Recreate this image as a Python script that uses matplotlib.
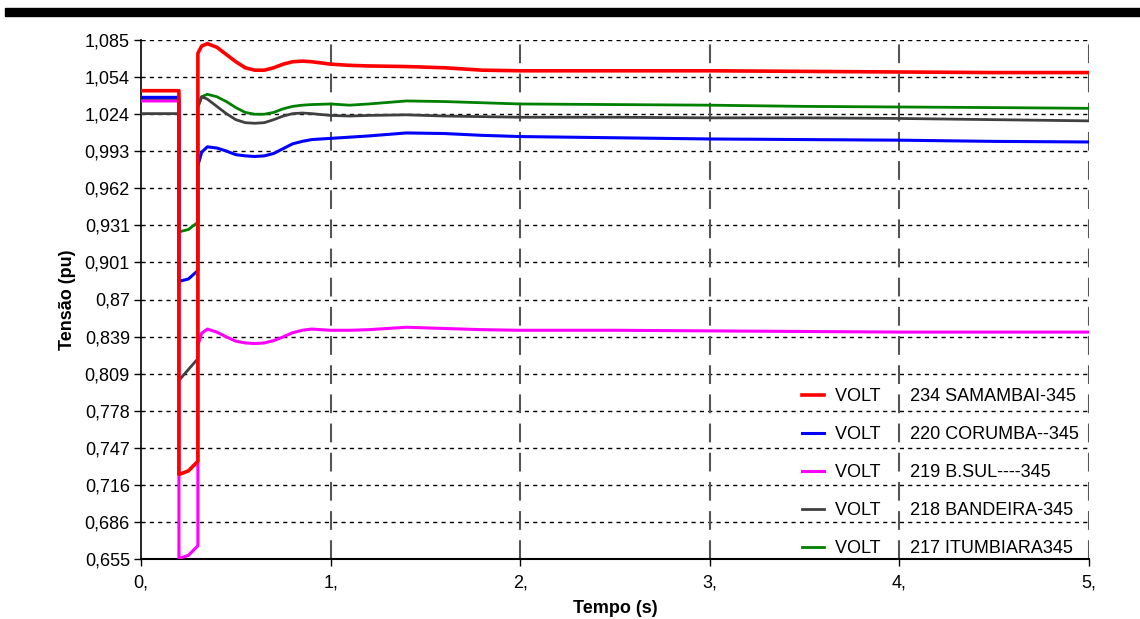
import numpy as np
import matplotlib
matplotlib.use("Agg")
import matplotlib.pyplot as plt
from matplotlib.patches import Rectangle

plt.rcParams['font.family'] = ['Liberation Sans', 'DejaVu Sans']

# tempo (s) - falta entre 0.2 e 0.3 s
tempo = [0.0, 0.2, 0.2, 0.25, 0.3, 0.3, 0.32, 0.35, 0.4, 0.45, 0.5, 0.55, 0.6, 0.65,
         0.7, 0.75, 0.8, 0.85, 0.9, 1.0, 1.1, 1.2, 1.4, 1.6, 1.8, 2.0, 2.5, 3.0,
         3.5, 4.0, 4.5, 5.0]

samambai = [1.043, 1.043, 0.725, 0.728, 0.736, 1.074, 1.080, 1.082, 1.079, 1.073,
            1.067, 1.062, 1.060, 1.060, 1.062, 1.065, 1.067, 1.0675, 1.067, 1.065,
            1.064, 1.0635, 1.063, 1.062, 1.060, 1.0595, 1.0595, 1.0595, 1.059,
            1.0585, 1.058, 1.058]
corumba = [1.0375, 1.0375, 0.885, 0.887, 0.894, 0.981, 0.992, 0.9965, 0.9955, 0.993,
           0.990, 0.989, 0.9885, 0.989, 0.991, 0.995, 0.999, 1.001, 1.0025, 1.0035,
           1.0045, 1.0055, 1.008, 1.0075, 1.006, 1.005, 1.004, 1.003, 1.0025,
           1.002, 1.001, 1.0005]
bsul = [1.0345, 1.0345, 0.6555, 0.658, 0.666, 0.832, 0.842, 0.8455, 0.843, 0.839,
        0.8355, 0.834, 0.8335, 0.834, 0.836, 0.839, 0.8425, 0.8445, 0.8455, 0.8445,
        0.8445, 0.845, 0.847, 0.846, 0.845, 0.8445, 0.8445, 0.844, 0.8435, 0.843,
        0.843, 0.843]
bandeira = [1.024, 1.024, 0.803, 0.812, 0.821, 1.030, 1.038, 1.036, 1.030, 1.024,
            1.019, 1.0165, 1.016, 1.0165, 1.019, 1.022, 1.024, 1.0245, 1.024, 1.0225,
            1.022, 1.0225, 1.023, 1.022, 1.0215, 1.021, 1.021, 1.0205, 1.0205,
            1.020, 1.019, 1.018]
itumbiara = [1.036, 1.036, 0.926, 0.928, 0.934, 1.029, 1.038, 1.040, 1.038, 1.034,
             1.029, 1.025, 1.0235, 1.0235, 1.025, 1.028, 1.030, 1.031, 1.0315, 1.032,
             1.031, 1.032, 1.0345, 1.034, 1.033, 1.032, 1.0315, 1.031, 1.030,
             1.0295, 1.029, 1.0284]

nomes = ["234 SAMAMBAI-345", "220 CORUMBA--345", "219 B.SUL----345",
         "218 BANDEIRA-345", "217 ITUMBIARA345"]
cores = ["#ff0000", "#0000ff", "#ff00ff", "#404040", "#008000"]
series = [samambai, corumba, bsul, bandeira, itumbiara]

yticks_lbl = ["0,655", "0,686", "0,716", "0,747", "0,778", "0,809", "0,839", "0,87",
              "0,901", "0,931", "0,962", "0,993", "1,024", "1,054", "1,085"]
xticks_lbl = ["0,", "1,", "2,", "3,", "4,", "5,"]

fig = plt.figure(figsize=(11.4, 6.19), dpi=100)
ax = fig.add_axes([141 / 1140, 1 - 559 / 619, 948 / 1140, 519 / 619])

# barra preta no topo
fig.patches.append(Rectangle((5 / 1140, 1 - 16 / 619), 1135 / 1140, 8 / 619,
                             transform=fig.transFigure, color="black", zorder=5))

# desenha de tras para frente (vermelho por cima)
handles = []
for vals, cor, nome, lw, z in zip(series, cores, nomes,
                                  [2.6, 2.2, 2.2, 2.0, 2.0], [6, 5, 4, 3, 2]):
    h, = ax.plot(tempo, vals, color=cor, lw=lw, zorder=z,
                 label="VOLT      " + nome)
    handles.append(h)

ax.set_xlim(0, 5)
ax.set_ylim(0.655, 1.085)
yt = np.linspace(0.655, 1.085, len(yticks_lbl))
ax.set_yticks(yt)
ax.set_yticklabels(yticks_lbl)
ax.set_xticks(range(len(xticks_lbl)))
ax.set_xticklabels(xticks_lbl)
ax.tick_params(axis='both', labelsize=13, length=5, width=1, color='black')
ax.tick_params(axis='x', pad=6)
ax.tick_params(axis='y', pad=3)

# grades
for y in yt[1:]:
    ax.axhline(y, color='black', lw=1, ls=(0, (3, 3)), zorder=1)
for x in range(1, 6):
    ax.axvline(x, color='#555555', lw=1.5, ls=(0, (9, 5)), zorder=1)

ax.spines['top'].set_visible(False)
ax.spines['right'].set_visible(False)
ax.spines['left'].set_linewidth(1.2)
ax.spines['bottom'].set_linewidth(1.5)

ax.set_ylabel("Tensão (pu)", fontsize=13, fontweight='bold', labelpad=6)
ax.set_xlabel("Tempo (s)", fontsize=13, fontweight='bold', labelpad=6)

leg = ax.legend(handles=handles, loc='lower right', frameon=False, fontsize=13,
                handlelength=1.2, handletextpad=0.6, labelspacing=1.16,
                borderpad=0.2, bbox_to_anchor=(1.0025, -0.021))

fig.savefig("out.png", dpi=100)
